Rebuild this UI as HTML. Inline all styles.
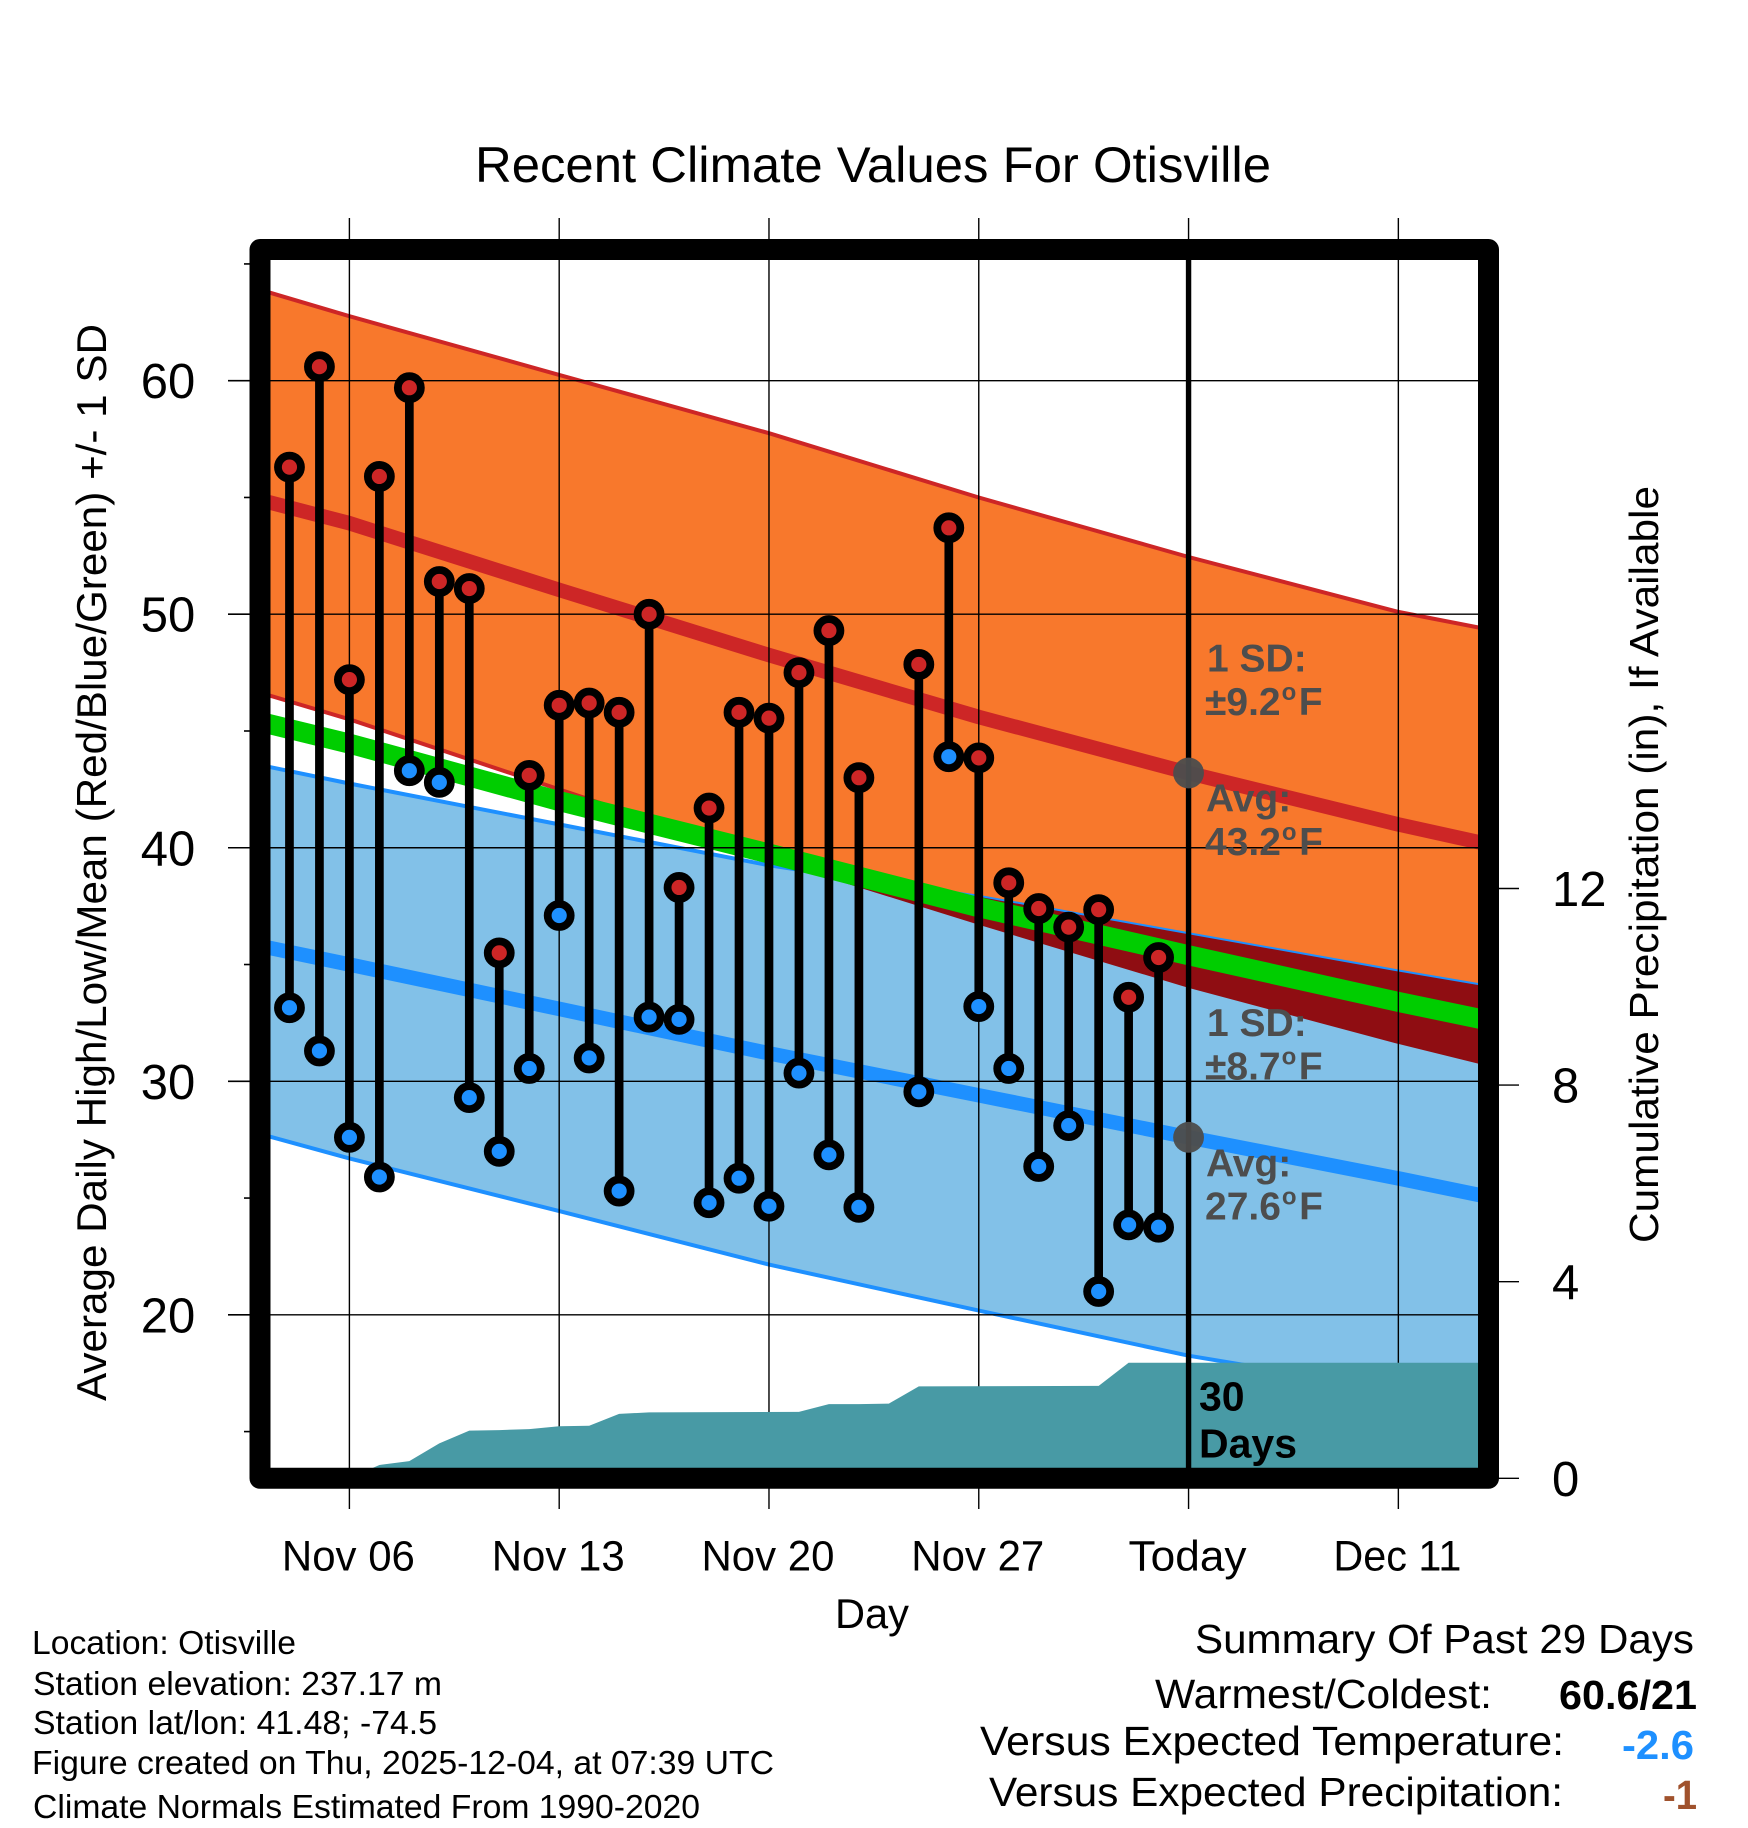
<!DOCTYPE html>
<html lang="en">
<head>
<meta charset="utf-8">
<title>Recent Climate Values For Otisville</title>
<style>
html,body{margin:0;padding:0;background:#fff;}
svg{display:block;}
text{font-family:"Liberation Sans",Helvetica,Arial,sans-serif;fill:#000;}
.b{font-weight:bold;}
.g{font-weight:bold;fill:#4d4d4d;font-size:39px;}
</style>
</head>
<body>
<svg id="chart" xmlns="http://www.w3.org/2000/svg" width="1748" height="1828" viewBox="0 0 1748 1828">
  <defs>
    <clipPath id="plot-clip"><rect x="260" y="249.5" width="1228.5" height="1228.8"/></clipPath>
    <clipPath id="high-band-clip"><polygon id="high-band-clip-shape" points=""/></clipPath>
  </defs>
  <rect x="0" y="0" width="1748" height="1828" fill="#ffffff"/>
  <text x="873" y="182" font-size="50" text-anchor="middle" textLength="796" lengthAdjust="spacingAndGlyphs">Recent Climate Values For Otisville</text>

  <g id="plot-layer" clip-path="url(#plot-clip)"></g>
  <g id="tick-layer"></g>

  <rect x="260" y="249.5" width="1228.5" height="1228.8" fill="none" stroke="#000" stroke-width="21" stroke-linejoin="round"/>

  <text transform="translate(106,1401) rotate(-90)" font-size="42" textLength="1077" lengthAdjust="spacingAndGlyphs">Average Daily High/Low/Mean (Red/Blue/Green) +/- 1 SD</text>
  <text transform="translate(1658,1243) rotate(-90)" font-size="41" textLength="757" lengthAdjust="spacingAndGlyphs">Cumulative Precipitation (in), If Available</text>
  <text x="872" y="1628" font-size="42" text-anchor="middle" textLength="74" lengthAdjust="spacingAndGlyphs">Day</text>

  <text x="32" y="1654" font-size="33.5" textLength="264" lengthAdjust="spacingAndGlyphs">Location: Otisville</text>
  <text x="33" y="1695" font-size="33.5" textLength="409" lengthAdjust="spacingAndGlyphs">Station elevation: 237.17 m</text>
  <text x="33" y="1734" font-size="33.5" textLength="404" lengthAdjust="spacingAndGlyphs">Station lat/lon: 41.48; -74.5</text>
  <text x="32" y="1774" font-size="33.5" textLength="742" lengthAdjust="spacingAndGlyphs">Figure created on Thu, 2025-12-04, at 07:39 UTC</text>
  <text x="33" y="1818" font-size="33.5" textLength="667" lengthAdjust="spacingAndGlyphs">Climate Normals Estimated From 1990-2020</text>

  <text x="1195" y="1653" font-size="40.5" textLength="499" lengthAdjust="spacingAndGlyphs">Summary Of Past 29 Days</text>
  <text x="1155" y="1708" font-size="40.5" textLength="337" lengthAdjust="spacingAndGlyphs">Warmest/Coldest:</text>
  <text class="b" x="1559" y="1709" font-size="40.5" textLength="138" lengthAdjust="spacingAndGlyphs">60.6/21</text>
  <text x="980" y="1755" font-size="40.5" textLength="584" lengthAdjust="spacingAndGlyphs">Versus Expected Temperature:</text>
  <text class="b" x="1622" y="1759" font-size="40.5" textLength="72" lengthAdjust="spacingAndGlyphs" style="fill:#1e90ff">-2.6</text>
  <text x="989" y="1806" font-size="40.5" textLength="574" lengthAdjust="spacingAndGlyphs">Versus Expected Precipitation:</text>
  <text class="b" x="1663" y="1809" font-size="40.5" textLength="34" lengthAdjust="spacingAndGlyphs" style="fill:#a0522d">-1</text>
</svg>

<script>
// Day numbers are counted from Nov 06 (day 0). Today (Dec 04) is day 28.
const normalDays = [-3, 0, 7, 14, 21, 28, 35, 38];
const highUpper = [63.9, 62.76, 60.25, 57.75, 55.0, 52.45, 50.1, 49.35];
const highMean = [54.9, 53.9, 51.04, 48.25, 45.6, 43.2, 41.0, 40.15];
const highLower = [46.65, 45.5, 42.5, 39.5, 36.7, 34.0, 31.6, 30.65];
const lowUpper = [43.55, 42.75, 41.0, 39.25, 37.9, 36.3, 34.7, 34.05];
const lowMean = [35.8, 35.0, 33.1, 31.2, 29.4, 27.6, 25.84, 25.05];
const lowLower = [27.75, 26.7, 24.44, 22.15, 20.18, 18.25, 16.75, 16.1];
const overallMean = [45.4, 44.46, 42.0, 39.75, 37.45, 35.4, 33.4, 32.6];

const obsDays = [-2, -1, 0, 1, 2, 3, 4, 5, 6, 7, 8, 9, 10, 11, 12, 13, 14, 15, 16, 17, 19, 20, 21, 22, 23, 24, 25, 26, 27];
const obsHighs = [56.3, 60.6, 47.2, 55.9, 59.7, 51.4, 51.1, 35.5, 43.1, 46.1, 46.2, 45.8, 50.0, 38.3, 41.7, 45.8, 45.55, 47.5, 49.3, 43.0, 47.85, 53.7, 43.85, 38.5, 37.4, 36.6, 37.35, 33.6, 35.3];
const obsLows = [33.15, 31.3, 27.6, 25.9, 43.3, 42.8, 29.3, 27.0, 30.55, 37.1, 31.0, 25.3, 32.75, 32.65, 24.8, 25.85, 24.65, 30.35, 26.85, 24.6, 29.55, 43.9, 33.2, 30.55, 26.35, 28.1, 21.0, 23.85, 23.75];

const precipDays = [-3, 0, 1, 2, 3, 4, 5, 6, 7, 8, 9, 10, 15, 16, 17, 18, 19, 25, 26, 38];
const precipValues = [0, 0, 0.27, 0.35, 0.71, 0.97, 0.98, 1.0, 1.06, 1.07, 1.31, 1.34, 1.35, 1.51, 1.51, 1.52, 1.87, 1.88, 2.35, 2.35];

const xTickDays = [0, 7, 14, 21, 28, 35];
const xTickLabels = ['Nov 06', 'Nov 13', 'Nov 20', 'Nov 27', 'Today', 'Dec 11'];
const yMajorTicks = [60, 50, 40, 30, 20];
const yMinorTicks = [65, 55, 45, 35, 25, 15];
const precipTicks = [0, 4, 8, 12];
const todayDay = 28;
const todayHighAvg = 43.2;
const todayLowAvg = 27.6;

const SVGNS = 'http://www.w3.org/2000/svg';
const plot = document.getElementById('plot-layer');
const tickLayer = document.getElementById('tick-layer');

function xScale(d) { return 349.4 + 29.97 * d; }
function yScale(v) { return 380.7 + (60 - v) * 23.353; }
function precipScale(p) { return 1478.3 - p * 49.15; }

function make(tag, attrs, parent) {
  const el = document.createElementNS(SVGNS, tag);
  for (const k in attrs) el.setAttribute(k, attrs[k]);
  parent.appendChild(el);
  return el;
}
function pathPoints(days, vals) {
  return days.map((d, i) => xScale(d).toFixed(1) + ',' + yScale(vals[i]).toFixed(1));
}
function bandPoints(days, top, bottom) {
  return pathPoints(days, top).concat(pathPoints(days, bottom).reverse()).join(' ');
}
function seriesLine(vals, color, width, parent) {
  return make('polyline', {points: pathPoints(normalDays, vals).join(' '), fill: 'none', stroke: color, 'stroke-width': width, 'stroke-linejoin': 'round'}, parent);
}

// High band and its edges
let el = make('polygon', {points: bandPoints(normalDays, highUpper, highLower), fill: '#f8782c'}, plot);


el = seriesLine(highUpper, '#cd2626', 4, plot);


el = seriesLine(highLower, '#cd2626', 4, plot);



// Low band and its edges
el = make('polygon', {points: bandPoints(normalDays, lowUpper, lowLower), fill: '#82c1e8'}, plot);


el = seriesLine(lowUpper, '#1e90ff', 4, plot);


el = seriesLine(lowLower, '#1e90ff', 4, plot);



// Overlap of the two bands
document.getElementById('high-band-clip-shape').setAttribute('points', bandPoints(normalDays, highUpper, highLower));
el = make('polygon', {points: bandPoints(normalDays, lowUpper, lowLower), fill: '#8f0d12', 'clip-path': 'url(#high-band-clip)'}, plot);



// Mean lines
el = seriesLine(highMean, '#cd2626', 14.5, plot);


el = seriesLine(lowMean, '#1e90ff', 14.5, plot);


el = seriesLine(overallMean, '#00cd00', 20, plot);



// Grid
yMajorTicks.forEach(v => {
  const g = make('line', {x1: 260, x2: 1488, y1: yScale(v), y2: yScale(v), stroke: '#000', 'stroke-width': 1.4}, plot);
  
  
});
xTickDays.forEach(d => {
  const g = make('line', {x1: xScale(d), x2: xScale(d), y1: 250, y2: 1478, stroke: '#000', 'stroke-width': 1.4}, plot);
  
  
});

// Cumulative precipitation
const precipPts = precipDays.map((d, i) => xScale(d).toFixed(1) + ',' + precipScale(precipValues[i]).toFixed(1));
precipPts.push(xScale(precipDays[precipDays.length - 1]).toFixed(1) + ',' + precipScale(0).toFixed(1));
precipPts.push(xScale(precipDays[0]).toFixed(1) + ',' + precipScale(0).toFixed(1));
el = make('polygon', {points: precipPts.join(' '), fill: '#489aa5'}, plot);



// Daily high-low stems and markers
obsDays.forEach((d, i) => {
  const s = make('line', {x1: xScale(d), x2: xScale(d), y1: yScale(obsHighs[i]), y2: yScale(obsLows[i]), stroke: '#000', 'stroke-width': 8.7}, plot);
  
  
});
obsDays.forEach((d, i) => {
  const lo = make('circle', {cx: xScale(d), cy: yScale(obsLows[i]), r: 11.5, fill: '#1e90ff', stroke: '#000', 'stroke-width': 7.8}, plot);
  
  
  const hi = make('circle', {cx: xScale(d), cy: yScale(obsHighs[i]), r: 11.5, fill: '#cd2626', stroke: '#000', 'stroke-width': 7.8}, plot);
  
  
});

// Today marker
el = make('line', {x1: xScale(todayDay), x2: xScale(todayDay), y1: 250, y2: 1478, stroke: '#000', 'stroke-width': 5.4}, plot);


el = make('circle', {cx: xScale(todayDay), cy: yScale(todayHighAvg), r: 15.4, fill: '#4d4d4d', 'fill-opacity': 0.96}, plot);


el = make('circle', {cx: xScale(todayDay), cy: yScale(todayLowAvg), r: 15.4, fill: '#4d4d4d', 'fill-opacity': 0.96}, plot);



// Annotations
function note(parts, x, y, parent) {
  const t = make('text', {x: x, y: y, class: 'g'}, parent);
  parts.forEach(p => {
    const sp = document.createElementNS(SVGNS, 'tspan');
    if (p.sup) { sp.setAttribute('font-size', '24'); sp.setAttribute('dy', '-15'); sp.setAttribute('dx', '1'); }
    if (p.after) { sp.setAttribute('dy', '15'); sp.setAttribute('dx', '2.5'); }
    sp.textContent = p.s;
    t.appendChild(sp);
  });
  return t;
}
el = note([{s: '1 SD:'}], 1207, 671.7, plot);


el = note([{s: '\u00b19.2'}, {s: 'o', sup: true}, {s: 'F', after: true}], 1205, 715, plot);


el = note([{s: 'Avg:'}], 1206, 811.7, plot);


el = note([{s: '43.2'}, {s: 'o', sup: true}, {s: 'F', after: true}], 1205, 855, plot);


el = note([{s: '1 SD:'}], 1207, 1036, plot);


el = note([{s: '\u00b18.7'}, {s: 'o', sup: true}, {s: 'F', after: true}], 1205, 1079.3, plot);


el = note([{s: 'Avg:'}], 1206, 1176.7, plot);


el = note([{s: '27.6'}, {s: 'o', sup: true}, {s: 'F', after: true}], 1205, 1219.3, plot);



el = make('text', {x: 1199, y: 1410.7, 'font-size': 41, class: 'b'}, plot);
el.textContent = '30';


el = make('text', {x: 1199, y: 1457.3, 'font-size': 41, class: 'b'}, plot);
el.textContent = 'Days';



// Axis ticks and labels
yMajorTicks.forEach(v => {
  const t = make('line', {x1: 228, x2: 252, y1: yScale(v), y2: yScale(v), stroke: '#000', 'stroke-width': 1.6}, tickLayer);
  
  
  const lab = make('text', {x: 168, y: yScale(v) + 17.5, 'font-size': 49, 'text-anchor': 'middle'}, tickLayer);
  lab.textContent = String(v);
  
  
});
yMinorTicks.forEach(v => {
  const t = make('line', {x1: 244, x2: 252, y1: yScale(v), y2: yScale(v), stroke: '#000', 'stroke-width': 1.6}, tickLayer);
  
  
});
xTickDays.forEach((d, i) => {
  const top = make('line', {x1: xScale(d), x2: xScale(d), y1: 218, y2: 245, stroke: '#000', 'stroke-width': 1.4}, tickLayer);
  
  
  const bot = make('line', {x1: xScale(d), x2: xScale(d), y1: 1483, y2: 1509, stroke: '#000', 'stroke-width': 1.4}, tickLayer);
  
  
  const labelWidth = xTickLabels[i] === 'Today' ? 118 : (xTickLabels[i] === 'Dec 11' ? 128 : 133);
  const lab = make('text', {x: xScale(d) - 1, y: 1570.7, 'font-size': 43, 'text-anchor': 'middle', textLength: labelWidth, lengthAdjust: 'spacingAndGlyphs'}, tickLayer);
  lab.textContent = xTickLabels[i];
  
  
});
precipTicks.forEach(p => {
  const t = make('line', {x1: 1495, x2: 1519, y1: precipScale(p), y2: precipScale(p), stroke: '#000', 'stroke-width': 1.4}, tickLayer);
  
  
  const lab = make('text', {x: 1552, y: precipScale(p) + 17.5, 'font-size': 49}, tickLayer);
  lab.textContent = String(p);
  
  
});
</script>
</body>
</html>
